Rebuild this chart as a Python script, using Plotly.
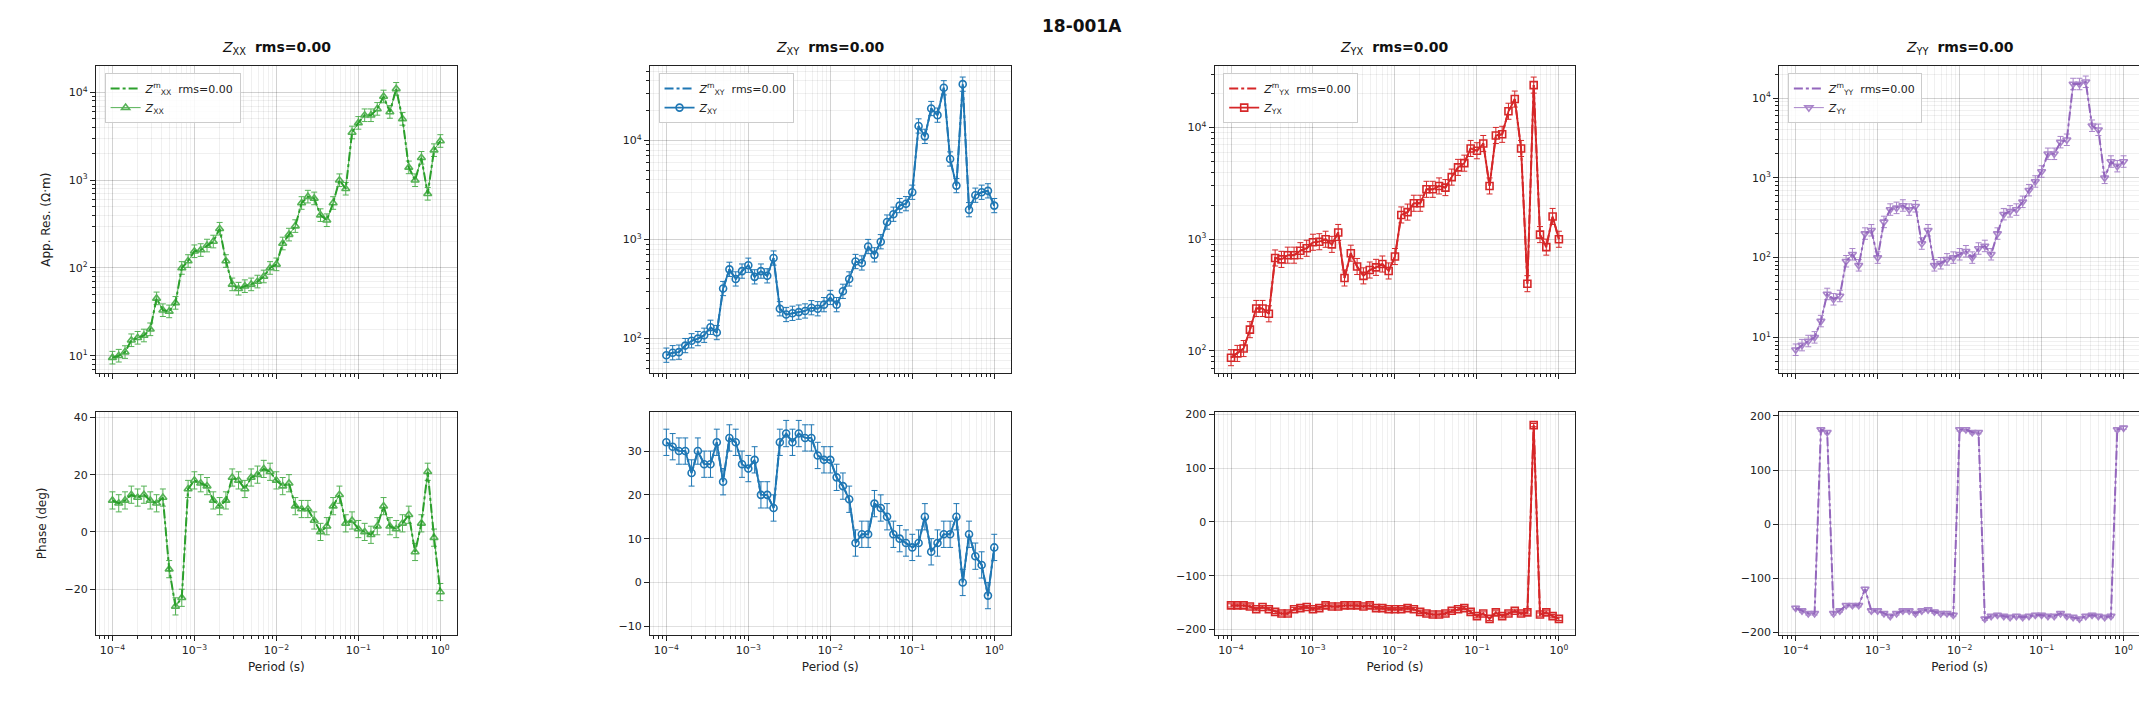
import plotly.graph_objects as go

mant = [1.000, 1.194, 1.425, 1.701, 2.031, 2.424, 2.894, 3.455, 4.125, 4.924, 5.878, 7.017, 8.377]
periods = [m * 10.0 ** e for e in (-4, -3, -2, -1) for m in mant] + [1.0]

rho_xx = [9.5,10,11,15,16,17,20,45,33,32,40,100,120,155,160,180,200,280,120,65,58,62,65,70,80,100,110,190,240,300,
          550,650,620,400,350,550,1000,800,3500,4500,5500,5500,6500,9000,6000,11000,5000,1400,1000,1800,700,2200,2800]
phs_xx = [11,10,11,13,12,13,11,10,12,-13,-26,-23,15,18,17,16,11,9,11,19,18,15,19,20,22,21,18,16,17,9,
          8,8,4,0,2,9,13,3,4,1,0,-1,2,9,2,1,3,6,-7,3,21,-2,-21]
rho_xy = [68,72,73,85,95,100,108,130,115,320,500,400,480,550,420,480,430,650,200,175,180,185,190,205,200,220,260,220,300,400,
          600,580,850,700,950,1500,1800,2200,2300,3000,14000,11000,21000,18000,34000,6500,3500,37000,2000,2800,3000,3100,2200]
phs_xy = [32,31,30,30,25,30,27,27,32,23,33,32,27,26,28,20,20,17,32,34,32,34,33,33,29,28,28,24,22,19,
          9,11,11,18,17,15,11,10,9,8,9,15,7,9,11,11,15,0,11,6,4,-3,8]
rho_yx = [87,95,105,155,240,240,215,680,660,720,720,790,830,940,950,1000,900,1150,450,750,570,470,530,560,600,520,700,1650,1750,2100,
          2100,2800,2800,3000,2900,3600,4400,4800,6500,6200,7200,3000,8500,8700,14000,18000,6500,400,24000,1100,850,1600,1000]
phs_yx = [-155,-155,-155,-157,-162,-158,-162,-167,-170,-170,-162,-160,-158,-162,-160,-155,-157,-157,-155,-155,
          -155,-157,-155,-160,-160,-162,-162,-162,-160,-162,-167,-170,-172,-172,-170,-165,-162,-160,-167,-175,
          -170,-180,-168,-175,-170,-165,-170,-168,180,-172,-168,-175,-180]
rho_yy = [7,8,9,10,16,35,30,33,90,110,80,200,220,100,280,400,420,450,400,440,150,220,80,85,95,100,110,120,100,130,
          140,110,200,350,380,400,500,700,900,1200,2000,2000,2800,3000,15000,15000,16000,4500,4000,1000,1600,1400,1600]
phs_yy = [-155,-160,-165,-165,175,170,-165,-160,-150,-150,-150,-120,-160,-160,-165,-170,-165,-160,-160,-165,
          -160,-158,-162,-165,-165,-168,175,175,170,170,-175,-170,-168,-170,-172,-170,-172,-170,-168,-168,
          -170,-170,-165,-170,-172,-175,-170,-168,-170,-172,-170,175,178]

period_ticks = [1e-4, 1e-3, 1e-2, 1e-1, 1]
period_ticktext = ["10<sup>−4</sup>", "10<sup>−3</sup>", "10<sup>−2</sup>", "10<sup>−1</sup>", "10<sup>0</sup>"]
rho_ticks = [10, 100, 1000, 10000]
rho_ticktext = ["10<sup>1</sup>", "10<sup>2</sup>", "10<sup>3</sup>", "10<sup>4</sup>"]

rho_err_frac = 0.18
phs_err = 3.0

comps = [
    ("XX", rho_xx, phs_xx, "#2ca02c", "triangle-up-open", False, [0.8, 4.3], [-36, 42]),
    ("XY", rho_xy, phs_xy, "#1f77b4", "circle-open", True, [1.65, 4.75], [-12, 39]),
    ("YX", rho_yx, phs_yx, "#d62728", "square-open", True, [1.8, 4.55], [-210, 205]),
    ("YY", rho_yy, phs_yy, "#9467bd", "triangle-down-open", False, [0.55, 4.4], [-205, 208]),
]
xdoms = [[0.041, 0.209], [0.299, 0.467], [0.562, 0.730], [0.825, 0.993]]
ytop = [0.481, 0.921]
ybot = [0.106, 0.426]

fig = go.Figure()
axfont = dict(family="DejaVu Sans", size=11, color="#222")
for i, (nm, rho, phs, col, sym, solid, rr, pr) in enumerate(comps):
    xa_t, ya_t = f"x{2*i+1}", f"y{2*i+1}"
    xa_b, ya_b = f"x{2*i+2}", f"y{2*i+2}"
    leg = "legend" if i == 0 else f"legend{i+1}"
    fig.add_trace(go.Scatter(x=periods, y=rho, mode="lines", line=dict(color=col, width=2, dash="dashdot"),
                             name=f"<i>Z</i><sup>m</sup><sub>{nm}</sub>  rms=0.00", xaxis=xa_t, yaxis=ya_t, legend=leg))
    fig.add_trace(go.Scatter(x=periods, y=phs, mode="lines", line=dict(color=col, width=2, dash="dashdot"),
                             showlegend=False, xaxis=xa_b, yaxis=ya_b))
    dline = dict(color=col, width=1.8 if solid else 1.0)
    dmode = "lines+markers"
    fig.add_trace(go.Scatter(x=periods, y=rho, mode=dmode, line=dline, opacity=1 if solid else 0.8,
                             marker=dict(symbol=sym, size=7, color=col, line=dict(width=1.6, color=col)),
                             error_y=dict(type="data", array=[v * rho_err_frac for v in rho],
                                          arrayminus=[v * rho_err_frac / (1 + rho_err_frac) for v in rho],
                                          color=col, thickness=1, width=3),
                             name=f"<i>Z</i><sub>{nm}</sub>", xaxis=xa_t, yaxis=ya_t, legend=leg))
    fig.add_trace(go.Scatter(x=periods, y=phs, mode=dmode, line=dline, opacity=1 if solid else 0.8,
                             marker=dict(symbol=sym, size=7, color=col, line=dict(width=1.6, color=col)),
                             error_y=dict(type="constant", value=phs_err, color=col, thickness=1, width=3),
                             showlegend=False, xaxis=xa_b, yaxis=ya_b))
    common = dict(showline=True, mirror=True, linecolor="#222", linewidth=1.2, ticks="outside",
                  tickcolor="#222", gridcolor="rgba(0,0,0,0.12)", tickfont=axfont, zeroline=False)
    minor = dict(dtick="D1", showgrid=True, gridcolor="rgba(0,0,0,0.06)", ticks="outside", ticklen=3, tickcolor="#222")
    logx = dict(type="log", range=[-4.2, 0.2], tickvals=period_ticks, ticktext=period_ticktext, minor=minor)
    lay = {}
    lay[f"xaxis{2*i+1}"] = dict(domain=xdoms[i], anchor=ya_t, showticklabels=False, **logx, **common)
    lay[f"yaxis{2*i+1}"] = dict(domain=ytop, anchor=xa_t, type="log", range=rr,
                                tickvals=rho_ticks, ticktext=rho_ticktext, minor=minor, **common)
    lay[f"xaxis{2*i+2}"] = dict(domain=xdoms[i], anchor=ya_b, matches=xa_t,
                                title=dict(text="Period (s)", font=dict(family="DejaVu Sans", size=12, color="#222"), standoff=6),
                                **logx, **common)
    lay[f"yaxis{2*i+2}"] = dict(domain=ybot, anchor=xa_b, range=pr, **common)
    lay[leg] = dict(x=xdoms[i][0] + 0.004, y=ytop[1] - 0.01, xanchor="left", yanchor="top",
                    bgcolor="rgba(255,255,255,0.85)", bordercolor="#ccc", borderwidth=1,
                    font=dict(family="DejaVu Sans", size=11, color="#222"))
    fig.update_layout(**lay)
    fig.add_annotation(x=(xdoms[i][0] + xdoms[i][1]) / 2, y=ytop[1] + 0.01, xref="paper", yref="paper",
                       xanchor="center", yanchor="bottom", showarrow=False,
                       text=f"<i>Z</i><sub>{nm}</sub>  <b>rms=0.00</b>",
                       font=dict(family="DejaVu Sans", size=14, color="#111"))

fig.update_layout(yaxis=dict(title=dict(text="App. Res. (Ω·m)", font=dict(family="DejaVu Sans", size=12, color="#222"))),
                  yaxis2=dict(title=dict(text="Phase (deg)", font=dict(family="DejaVu Sans", size=12, color="#222"))))
fig.add_annotation(x=0.5, y=0.995, xref="paper", yref="paper", xanchor="center", yanchor="top", showarrow=False,
                   text="<b>18-001A</b>", font=dict(family="DejaVu Sans", size=17, color="#111"))
fig.update_layout(width=2147, height=705, margin=dict(l=0, r=0, t=0, b=0),
                  paper_bgcolor="white", plot_bgcolor="white")
fig.write_html("out.html")
